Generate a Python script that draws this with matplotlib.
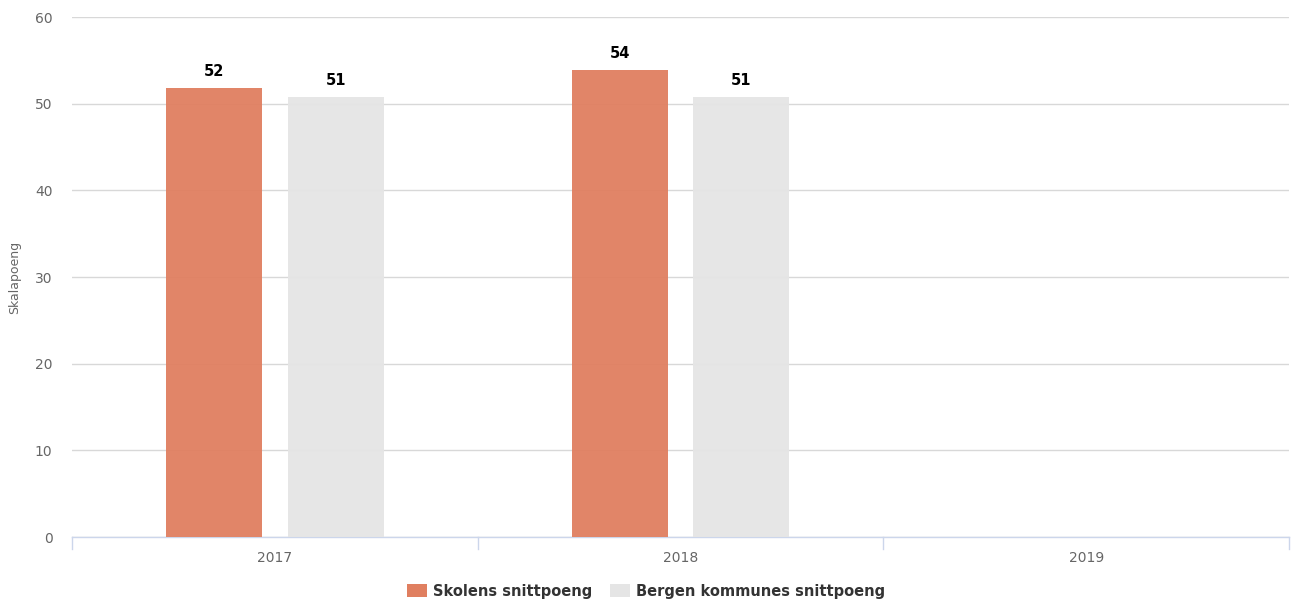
#!/usr/bin/env python3

import numpy as np
import matplotlib.pyplot as plt
from matplotlib.patches import Patch

years = ['2017', '2018', '2019']
school_scores = [51.8, 53.9, np.nan]
bergen_scores = [50.8, 50.8, np.nan]
series_names = ['Skolens snittpoeng', 'Bergen kommunes snittpoeng']
y_ticks = [0, 10, 20, 30, 40, 50, 60]

orange = '#E07F60'
grey = '#E5E5E5'

fig = plt.figure(figsize=(12.92, 6.09), dpi=100)
ax = fig.add_axes([0.0557, 0.1182, 0.942, 0.8538])

x = np.arange(len(years))
bar_w = 0.237
offset = 0.15

bars_a = ax.bar(x - offset, school_scores, width=bar_w, color=orange, alpha=0.95, zorder=3)
bars_b = ax.bar(x + offset, bergen_scores, width=bar_w, color=grey, alpha=0.95, zorder=3)

for bars, vals in ((bars_a, school_scores), (bars_b, bergen_scores)):
    for b, v in zip(bars, vals):
        if np.isnan(v):
            continue
        ax.text(b.get_x() + b.get_width() / 2, v + 1.0, f'{v:.0f}',
                ha='center', va='bottom', fontsize=10.5, fontweight='bold',
                color='#000000', zorder=4)

ax.set_xlim(-0.5, len(years) - 0.5)
ax.set_ylim(0, 60)
ax.set_yticks(y_ticks)
ax.set_xticks(x)
ax.set_xticklabels(years)
ax.tick_params(axis='y', length=0, labelsize=10, labelcolor='#666666', pad=14)
ax.tick_params(axis='x', length=0, labelsize=10, labelcolor='#666666', pad=10)

# category boundary ticks below the axis
for bx in np.arange(-0.5, len(years), 1.0):
    ax.plot([bx, bx], [0, -1.4], color='#CCD6EB', lw=1.0, clip_on=False, zorder=2)

ax.grid(axis='y', color='#D8D8D8', lw=1.0, zorder=0)
for side in ('top', 'right', 'left'):
    ax.spines[side].set_visible(False)
ax.spines['bottom'].set_color('#CCD6EB')
ax.spines['bottom'].set_linewidth(1.0)

ax.set_ylabel('Skalapoeng', fontsize=9, color='#666666', labelpad=10)

handles = [Patch(facecolor=orange, edgecolor='none'),
           Patch(facecolor=grey, edgecolor='none')]
fig.legend(handles, series_names, loc='lower center', bbox_to_anchor=(0.5, -0.005),
           ncol=2, frameon=False, handlelength=1.4, handleheight=1.0,
           handletextpad=0.4, columnspacing=1.2,
           prop={'weight': 'bold', 'size': 10.5})
for t in fig.legends[0].get_texts():
    t.set_color('#333333')

fig.savefig('out.png', dpi=100)
